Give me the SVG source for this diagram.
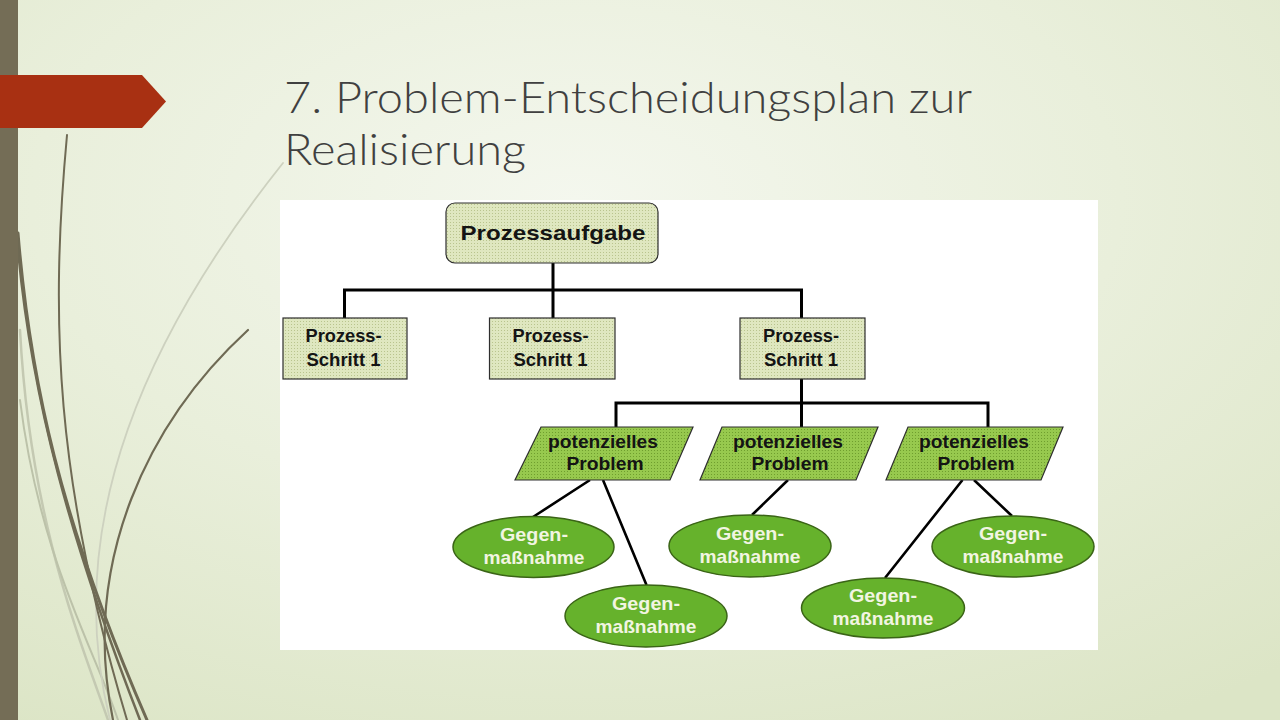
<svg xmlns="http://www.w3.org/2000/svg" width="1280" height="720" viewBox="0 0 1280 720">
<defs>
<radialGradient id="bg" cx="0.45" cy="0.28" r="0.85">
<stop offset="0" stop-color="#f4f7ee"/>
<stop offset="0.5" stop-color="#e9efdb"/>
<stop offset="1" stop-color="#dce5c6"/>
</radialGradient>
<pattern id="dotsLight" width="3" height="3" patternUnits="userSpaceOnUse">
<rect width="3" height="3" fill="#dfe7c0"/>
<rect width="1" height="1" fill="#b9c48e"/>
</pattern>
<pattern id="dotsMid" width="3" height="3" patternUnits="userSpaceOnUse">
<rect width="3" height="3" fill="#97c94e"/>
<rect width="1" height="1" fill="#6f9e2e"/>
</pattern>
<style>
.title{font-family:"Century Gothic","URW Gothic","Lato","Liberation Sans",sans-serif;font-weight:300;font-size:44px;fill:#404040}
.box{fill:url(#dotsLight);stroke:#2e2e2e;stroke-width:1.2}
.para{fill:url(#dotsMid);stroke:#2e2e2e;stroke-width:1.2}
.ell{fill:#66b22c;stroke:#3a6416;stroke-width:1.5}
.t{font-family:"Liberation Sans",Arial,sans-serif;font-weight:bold;text-anchor:middle;fill:#141414}
.tw{font-family:"Liberation Sans",Arial,sans-serif;font-weight:bold;text-anchor:middle;fill:#f2f5e2;font-size:18.5px}
.con{fill:none;stroke:#000;stroke-width:3}
.dia{fill:none;stroke:#000;stroke-width:2.6}
.deco{fill:none;stroke-linecap:round}
</style>
</defs>
<rect width="1280" height="720" fill="url(#bg)"/>
<g id="decor">
<path class="deco" d="M20,330 C30,520 80,640 108,720" stroke="#c4c9b2" stroke-width="2.5"/>
<path class="deco" d="M20,400 C40,560 95,650 118,720" stroke="#bcc2a9" stroke-width="2"/>
<path class="deco" d="M283,163 C150,330 60,520 110,720" stroke="#cdd1bf" stroke-width="1.8"/>
<path class="deco" d="M248,330 C150,420 80,560 113,720" stroke="#6f6a54" stroke-width="2.2"/>
<path class="deco" d="M67,135 C50,320 55,480 127,720" stroke="#6f6a54" stroke-width="2"/>
<path class="deco" d="M18,233 C30,380 60,520 147,720" stroke="#6f6a54" stroke-width="3"/>
<path class="deco" d="M18,250 C32,400 70,540 140,720" stroke="#6f6a54" stroke-width="2.5"/>
</g>
<rect x="0" y="0" width="18" height="720" fill="#746d56"/>
<polygon id="banner" points="0,75 142,75 166,101.5 142,128 0,128" fill="#a83012"/>
<g id="title">
<text class="title" x="284" y="113" textLength="688" lengthAdjust="spacingAndGlyphs">7. Problem-Entscheidungsplan zur</text>
<text class="title" x="284" y="165" textLength="242" lengthAdjust="spacingAndGlyphs">Realisierung</text>
</g>
<rect id="panel" x="280" y="200" width="818" height="450" fill="#ffffff"/>
<g id="connectors">
<path class="con" d="M553,263 V290 M344.5,290 H801.5 M344.5,288.5 V318 M553,290 V318 M801.5,288.5 V318"/>
<path class="con" d="M801.5,379 V403 M616,403 H988 M616,401.5 V427 M801.5,403 V427 M988,401.5 V427"/>
<path class="dia" d="M590,480 L533,517 M603,480 L646.5,585 M788,480 L752,515 M962.5,480 L885,578 M974,480 L1012,516"/>
</g>
<g id="prozessaufgabe">
<rect class="box" x="446" y="203" width="212" height="60" rx="9"/>
<text class="t" x="553" y="240" font-size="21" textLength="185" lengthAdjust="spacingAndGlyphs">Prozessaufgabe</text>
</g>
<g id="schritt1">
<rect class="box" x="283" y="318" width="124" height="61"/>
<text class="t" x="343.5" y="342" font-size="17.5" textLength="76" lengthAdjust="spacingAndGlyphs">Prozess-</text>
<text class="t" x="343.5" y="366" font-size="17.5" textLength="74" lengthAdjust="spacingAndGlyphs">Schritt 1</text>
</g>
<g id="schritt2">
<rect class="box" x="489.5" y="318" width="125.5" height="61"/>
<text class="t" x="550.5" y="342" font-size="17.5" textLength="76" lengthAdjust="spacingAndGlyphs">Prozess-</text>
<text class="t" x="550.5" y="366" font-size="17.5" textLength="74" lengthAdjust="spacingAndGlyphs">Schritt 1</text>
</g>
<g id="schritt3">
<rect class="box" x="740" y="318" width="125" height="61"/>
<text class="t" x="801" y="342" font-size="17.5" textLength="76" lengthAdjust="spacingAndGlyphs">Prozess-</text>
<text class="t" x="801" y="366" font-size="17.5" textLength="74" lengthAdjust="spacingAndGlyphs">Schritt 1</text>
</g>
<g id="problem1">
<polygon class="para" points="541,427 693,427 670,480 515,480"/>
<text class="t" x="603" y="447.5" font-size="18" textLength="110" lengthAdjust="spacingAndGlyphs">potenzielles</text>
<text class="t" x="605" y="470" font-size="18" textLength="77" lengthAdjust="spacingAndGlyphs">Problem</text>
</g>
<g id="problem2">
<polygon class="para" points="722,427 878,427 856,480 700,480"/>
<text class="t" x="788" y="447.5" font-size="18" textLength="110" lengthAdjust="spacingAndGlyphs">potenzielles</text>
<text class="t" x="790" y="470" font-size="18" textLength="77" lengthAdjust="spacingAndGlyphs">Problem</text>
</g>
<g id="problem3">
<polygon class="para" points="908,427 1063,427 1041,480 886,480"/>
<text class="t" x="974" y="447.5" font-size="18" textLength="110" lengthAdjust="spacingAndGlyphs">potenzielles</text>
<text class="t" x="976" y="470" font-size="18" textLength="77" lengthAdjust="spacingAndGlyphs">Problem</text>
</g>
<g id="massnahme1">
<ellipse class="ell" cx="533.5" cy="547" rx="80.5" ry="30.5"/>
<text class="tw" x="534" y="540.5" textLength="68" lengthAdjust="spacingAndGlyphs">Gegen-</text>
<text class="tw" x="534" y="564" textLength="101" lengthAdjust="spacingAndGlyphs">maßnahme</text>
</g>
<g id="massnahme2">
<ellipse class="ell" cx="646" cy="616" rx="81" ry="31"/>
<text class="tw" x="646" y="610" textLength="68" lengthAdjust="spacingAndGlyphs">Gegen-</text>
<text class="tw" x="646" y="633" textLength="101" lengthAdjust="spacingAndGlyphs">maßnahme</text>
</g>
<g id="massnahme3">
<ellipse class="ell" cx="750" cy="546" rx="81" ry="31"/>
<text class="tw" x="750" y="540" textLength="68" lengthAdjust="spacingAndGlyphs">Gegen-</text>
<text class="tw" x="750" y="563" textLength="101" lengthAdjust="spacingAndGlyphs">maßnahme</text>
</g>
<g id="massnahme4">
<ellipse class="ell" cx="883" cy="608" rx="81.5" ry="30"/>
<text class="tw" x="883" y="601.5" textLength="68" lengthAdjust="spacingAndGlyphs">Gegen-</text>
<text class="tw" x="883" y="624.5" textLength="101" lengthAdjust="spacingAndGlyphs">maßnahme</text>
</g>
<g id="massnahme5">
<ellipse class="ell" cx="1013" cy="546.5" rx="81" ry="30.5"/>
<text class="tw" x="1013" y="540" textLength="68" lengthAdjust="spacingAndGlyphs">Gegen-</text>
<text class="tw" x="1013" y="563" textLength="101" lengthAdjust="spacingAndGlyphs">maßnahme</text>
</g>
</svg>
